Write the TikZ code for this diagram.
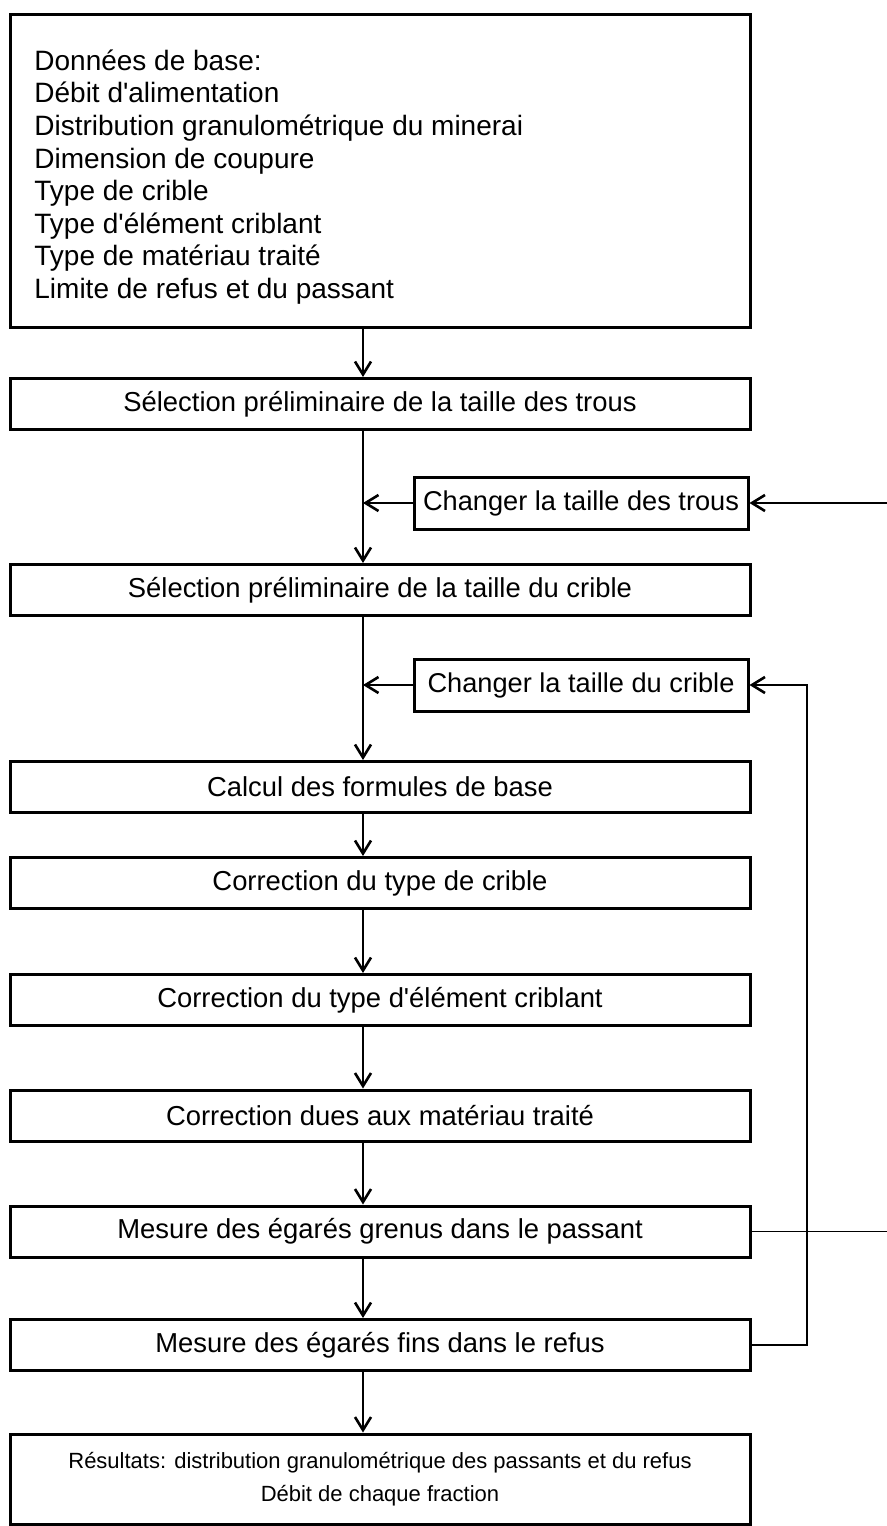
\documentclass[tikz,border=0pt]{standalone}
\usepackage{fontspec}
\setmainfont{Liberation Sans}
\usetikzlibrary{arrows.meta}

\begin{document}
\begin{tikzpicture}[x=0.5pt, y=-0.5pt,
        stage/.style = {draw, line width=1.5pt, inner sep=0pt,
                        minimum width=370pt, minimum height=25.5pt,
                        font=\fontsize{13.7}{16}\selectfont},
        aside/.style = {draw, line width=1.5pt, inner sep=0pt,
                        minimum width=167pt, minimum height=26pt,
                        font=\fontsize{13.6}{16}\selectfont},
        flow/.style  = {line width=0.8pt,
                        -{Straight Barb[length=6.5pt,width=8pt,line width=1.3pt]}},
        link/.style  = {line width=0.8pt}]
    \useasboundingbox (0,0) rectangle (887,1526);
    % guide lines for the connectors
    \coordinate (spine) at (363,0);
    \coordinate (loop)  at (807,0);
    \coordinate (edge)  at (887,0);

    \node[stage, minimum height=156.5pt] (data) at (380,170.5) {};
    \node[anchor=west, align=left, inner sep=0pt,
          font=\fontsize{14}{16.3}\selectfont] (datalist) at (34,177)
         {Données de base:\\Débit d\textquotesingle alimentation\\Distribution granulométrique du minerai\\
          Dimension de coupure\\Type de crible\\Type d\textquotesingle élément criblant\\
          Type de matériau traité\\Limite de refus et du passant};
    \node[stage] (trous)   at (380,404)    {Sélection préliminaire de la taille des trous};
    \node[aside] (ctrous)  at (581,503)    {Changer la taille des trous};
    \node[stage] (crible)  at (380,590)    {Sélection préliminaire de la taille du crible};
    \node[aside] (ccrible) at (581,685)    {Changer la taille du crible};
    \node[stage] (calcul)  at (380,787)    {Calcul des formules de base};
    \node[stage] (corrA)   at (380,883)    {Correction du type de crible};
    \node[stage] (corrB)   at (380,1000)   {Correction du type d\textquotesingle élément criblant};
    \node[stage] (corrC)   at (380,1115.5) {Correction dues aux matériau traité};
    \node[stage] (grenus)  at (380,1231.5) {Mesure des égarés grenus dans le passant};
    \node[stage] (fins)    at (380,1345)   {Mesure des égarés fins dans le refus};
    \node[stage, minimum height=45pt, align=center,
          font=\fontsize{11}{16.5}\selectfont] (result) at (380,1479)
         {Résultats: distribution granulométrique des passants et du refus\\Débit de chaque fraction};

    % main chain
    \draw[flow] (spine |- data.south)   -- (spine |- trous.north);
    \draw[flow] (spine |- trous.south)  -- (spine |- crible.north);
    \draw[flow] (spine |- crible.south) -- (spine |- calcul.north);
    \draw[flow] (spine |- calcul.south) -- (spine |- corrA.north);
    \draw[flow] (spine |- corrA.south)  -- (spine |- corrB.north);
    \draw[flow] (spine |- corrB.south)  -- (spine |- corrC.north);
    \draw[flow] (spine |- corrC.south)  -- (spine |- grenus.north);
    \draw[flow] (spine |- grenus.south) -- (spine |- fins.north);
    \draw[flow] (spine |- fins.south)   -- (spine |- result.north);

    % side boxes back into the chain
    \draw[flow] (ctrous.west)  -- (spine |- ctrous.west);
    \draw[flow] (ccrible.west) -- (spine |- ccrible.west);

    % feedback loops
    \draw[link] (grenus.east) -- (edge |- grenus.east);
    \draw[flow] (edge |- ctrous.east) -- (ctrous.east);
    \draw[flow] (fins.east) -- (loop |- fins.east) |- (ccrible.east);
\end{tikzpicture}
\end{document}
